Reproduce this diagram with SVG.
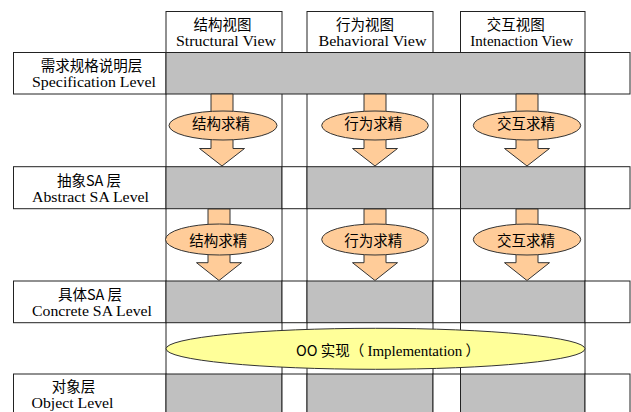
<svg xmlns="http://www.w3.org/2000/svg" width="631" height="412" viewBox="0 0 631 412">
<defs>
<style>
.cell{fill:#fff;stroke:#222;stroke-width:1}
.grey{fill:#c0c0c0;stroke:#222;stroke-width:1}
.vl{stroke:#222;stroke-width:1}
.arrow{fill:#ffcc99;stroke:#333;stroke-width:1}
.ref{fill:#ffcc99;stroke:#333;stroke-width:1}
.impl{fill:#ffff99;stroke:#333;stroke-width:1}
.cjk{font-family:"Noto Sans CJK SC","Noto Sans",sans-serif;font-size:14.5px;fill:#000;text-anchor:middle}
.en{font-family:"Liberation Serif","Times New Roman",serif;font-size:15px;fill:#000;text-anchor:middle}
</style>
</defs>
<rect width="631" height="412" fill="#fff"/>
<!-- column guide lines -->
<g id="grid">
<line class="vl" x1="166" y1="52" x2="166" y2="412"/>
<line class="vl" x1="282" y1="52" x2="282" y2="412"/>
<line class="vl" x1="307" y1="52" x2="307" y2="412"/>
<line class="vl" x1="433" y1="52" x2="433" y2="412"/>
<line class="vl" x1="460.5" y1="52" x2="460.5" y2="412"/>
<line class="vl" x1="585" y1="52" x2="585" y2="412"/>
</g>
<!-- headers -->
<g id="hdr-structural">
<rect class="cell" x="166" y="11.5" width="116" height="41"/>
<text class="cjk" x="222.5" y="29.5">结构视图</text>
<text class="en" x="226" y="46" textLength="100" lengthAdjust="spacingAndGlyphs">Structural View</text>
</g>
<g id="hdr-behavioral">
<rect class="cell" x="307" y="11.5" width="126" height="41"/>
<text class="cjk" x="365" y="29.5">行为视图</text>
<text class="en" x="372.5" y="46" textLength="108" lengthAdjust="spacingAndGlyphs">Behavioral View</text>
</g>
<g id="hdr-interaction">
<rect class="cell" x="460.5" y="11.5" width="124.5" height="41"/>
<text class="cjk" x="515.7" y="29.5">交互视图</text>
<text class="en" x="521.7" y="46" textLength="103" lengthAdjust="spacingAndGlyphs">Intenaction View</text>
</g>
<!-- specification level -->
<g id="row-spec">
<rect class="cell" x="13.5" y="52.5" width="152.5" height="41.5"/>
<rect class="grey" x="166" y="52.5" width="419" height="41.5"/>
<rect class="cell" x="585" y="52.5" width="45" height="41.5"/>
<text class="cjk" x="91.5" y="70.5">需求规格说明层</text>
<text class="en" x="94" y="87" textLength="124" lengthAdjust="spacingAndGlyphs">Specification Level</text>
</g>
<!-- abstract SA level -->
<g id="row-abstract">
<rect class="cell" x="13.5" y="166.7" width="152.5" height="42"/>
<rect class="grey" x="166" y="166.7" width="116" height="42"/>
<rect class="cell" x="282" y="166.7" width="25" height="42"/>
<rect class="grey" x="307" y="166.7" width="126" height="42"/>
<rect class="cell" x="433" y="166.7" width="27.5" height="42"/>
<rect class="grey" x="460.5" y="166.7" width="124.5" height="42"/>
<rect class="cell" x="585" y="166.7" width="45" height="42"/>
<text class="cjk" x="89" y="185.5">抽象SA 层</text>
<text class="en" x="90.5" y="202" textLength="117" lengthAdjust="spacingAndGlyphs">Abstract SA Level</text>
</g>
<!-- concrete SA level -->
<g id="row-concrete">
<rect class="cell" x="13.5" y="281" width="152.5" height="41.7"/>
<rect class="grey" x="166" y="281" width="116" height="41.7"/>
<rect class="cell" x="282" y="281" width="25" height="41.7"/>
<rect class="grey" x="307" y="281" width="126" height="41.7"/>
<rect class="cell" x="433" y="281" width="27.5" height="41.7"/>
<rect class="grey" x="460.5" y="281" width="124.5" height="41.7"/>
<rect class="cell" x="585" y="281" width="45" height="41.7"/>
<text class="cjk" x="90" y="299.5">具体SA 层</text>
<text class="en" x="92" y="316" textLength="120" lengthAdjust="spacingAndGlyphs">Concrete SA Level</text>
</g>
<!-- object level -->
<g id="row-object">
<rect class="cell" x="13.5" y="374" width="152.5" height="45"/>
<rect class="grey" x="166" y="374" width="116" height="45"/>
<rect class="cell" x="282" y="374" width="25" height="45"/>
<rect class="grey" x="307" y="374" width="126" height="45"/>
<rect class="cell" x="433" y="374" width="27.5" height="45"/>
<rect class="grey" x="460.5" y="374" width="124.5" height="45"/>
<rect class="cell" x="585" y="374" width="45" height="45"/>
<text class="cjk" x="73.5" y="391.5">对象层</text>
<text class="en" x="72.5" y="407.5" textLength="82" lengthAdjust="spacingAndGlyphs">Object Level</text>
</g>
<!-- connectors: refinement arrows -->
<g id="connectors">
<path class="arrow" d="M211,94 H233 V148.5 H244.5 L222,166 L199.5,148.5 H211 Z"/>
<path class="arrow" d="M364,94 H386 V148.5 H397.5 L375,166 L352.5,148.5 H364 Z"/>
<path class="arrow" d="M516,94 H538 V148.5 H549.5 L527,166 L504.5,148.5 H516 Z"/>
<path class="arrow" d="M208,209 H230 V262.7 H241.5 L219,280.5 L196.5,262.7 H208 Z"/>
<path class="arrow" d="M364,209 H386 V262.7 H397.5 L375,280.5 L352.5,262.7 H364 Z"/>
<path class="arrow" d="M516,209 H538 V262.7 H549.5 L527,280.5 L504.5,262.7 H516 Z"/>
</g>
<!-- refinement labels -->
<g id="ref-s1"><ellipse class="ref" cx="223" cy="125.5" rx="54" ry="14.5"/><text class="cjk" x="221" y="129">结构求精</text></g>
<g id="ref-b1"><ellipse class="ref" cx="375" cy="125.5" rx="53.3" ry="14.5"/><text class="cjk" x="373.3" y="129">行为求精</text></g>
<g id="ref-i1"><ellipse class="ref" cx="527" cy="125.5" rx="53.7" ry="14.5"/><text class="cjk" x="526" y="129">交互求精</text></g>
<g id="ref-s2"><ellipse class="ref" cx="219.5" cy="239.5" rx="54" ry="15.5"/><text class="cjk" x="218.3" y="246">结构求精</text></g>
<g id="ref-b2"><ellipse class="ref" cx="375" cy="239.5" rx="53.3" ry="15.5"/><text class="cjk" x="373.3" y="246">行为求精</text></g>
<g id="ref-i2"><ellipse class="ref" cx="527" cy="239.5" rx="53.7" ry="15.5"/><text class="cjk" x="526" y="246">交互求精</text></g>
<!-- OO implementation -->
<g id="oo-impl">
<ellipse class="impl" cx="375.5" cy="348.8" rx="209.5" ry="20.5"/>
<text x="388" y="356" text-anchor="middle" style="font-size:14.5px;fill:#000"><tspan font-family="'Noto Sans CJK SC',sans-serif">OO 实现（ </tspan><tspan font-family="'Liberation Serif',serif" font-size="15">Implementation</tspan><tspan font-family="'Noto Sans CJK SC',sans-serif"> ）</tspan></text>
</g>
</svg>
